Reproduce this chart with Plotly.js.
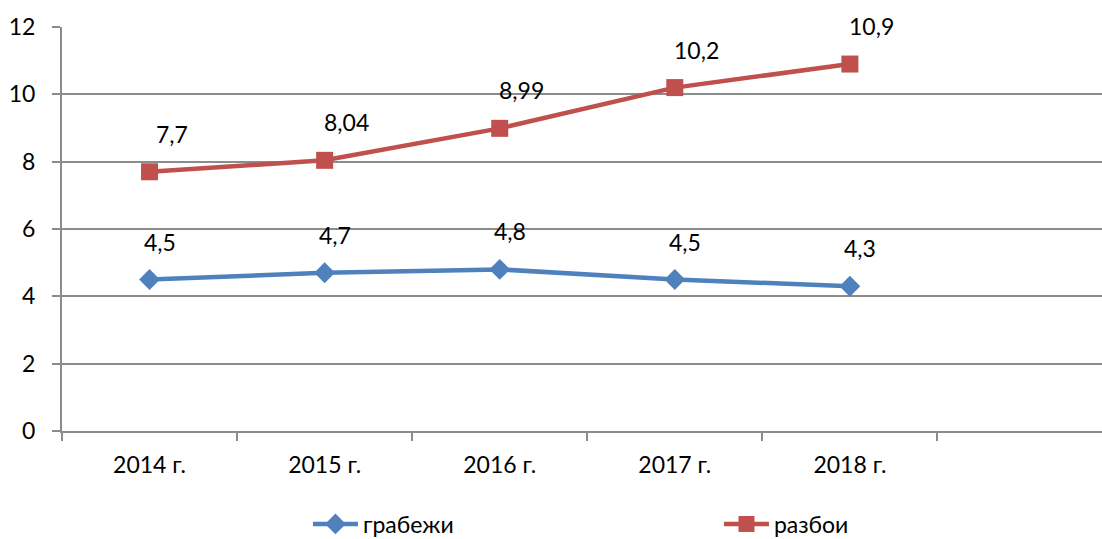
<!DOCTYPE html>
<html><head><meta charset="utf-8">
<script src="https://cdn.plot.ly/plotly-3.0.1.min.js"></script>
<style>body{margin:0;background:#fff}#c{width:1102px;height:539px}</style>
</head><body><div id="c"></div>
<script>
const categories = ["2014 г.", "2015 г.", "2016 г.", "2017 г.", "2018 г."];
const grabezhi = [4.5, 4.7, 4.8, 4.5, 4.3];
const razboi = [7.7, 8.04, 8.99, 10.2, 10.9];
const grabezhiLabels = ["4,5", "4,7", "4,8", "4,5", "4,3"];
const razboiLabels = ["7,7", "8,04", "8,99", "10,2", "10,9"];

const FONT = "Lato, 'Open Sans', sans-serif";
const blue = "#4F81BD", red = "#C0504D", grid = "#8C8C8C";

const traces = [
  {x: categories, y: grabezhi, name: "грабежи", type: "scatter", mode: "lines+markers",
   line: {color: blue, width: 4.5}, marker: {symbol: "diamond", size: 16, color: blue}},
  {x: categories, y: razboi, name: "разбои", type: "scatter", mode: "lines+markers",
   line: {color: red, width: 4.5}, marker: {symbol: "square", size: 17, color: red}}
];

const annotations = [];
categories.forEach((c, i) => {
  annotations.push({x: c, y: grabezhi[i], text: grabezhiLabels[i], showarrow: false,
    yshift: 38, xshift: 10, font: {family: FONT, size: 23, color: "#000"}});
  annotations.push({x: c, y: razboi[i], text: razboiLabels[i], showarrow: false,
    yshift: 38, xshift: 22, font: {family: FONT, size: 23, color: "#000"}});
});

const layout = {
  width: 1102, height: 539,
  margin: {l: 62, r: 0, t: 27, b: 108, autoexpand: false},
  paper_bgcolor: "#fff", plot_bgcolor: "#fff",
  font: {family: FONT, size: 22, color: "#000"},
  showlegend: true,
  legend: {orientation: "h", x: 0.2365, xanchor: "left", y: -0.177, yanchor: "top",
    entrywidth: 351, itemwidth: 45, font: {family: FONT, size: 23, color: "#000"}},
  xaxis: {type: "category", range: [-0.5, 5.44], tickson: "boundaries", automargin: false,
    ticks: "outside", ticklen: 8, tickwidth: 2, tickcolor: grid,
    showgrid: false, showline: true, linecolor: grid, linewidth: 2,
    ticklabelstandoff: 12, tickfont: {family: FONT, size: 23}, fixedrange: true},
  yaxis: {range: [0, 12], dtick: 2, tick0: 0, ticks: "outside", ticklen: 8, tickwidth: 2,
    tickcolor: grid, showgrid: true, gridcolor: grid, gridwidth: 2, automargin: false,
    showline: true, linecolor: grid, linewidth: 2, zeroline: false,
    ticklabelstandoff: 12, tickfont: {family: FONT, size: 23}, fixedrange: true},
  annotations: annotations
};

Plotly.newPlot("c", traces, layout, {displayModeBar: false, staticPlot: true});
</script></body></html>
